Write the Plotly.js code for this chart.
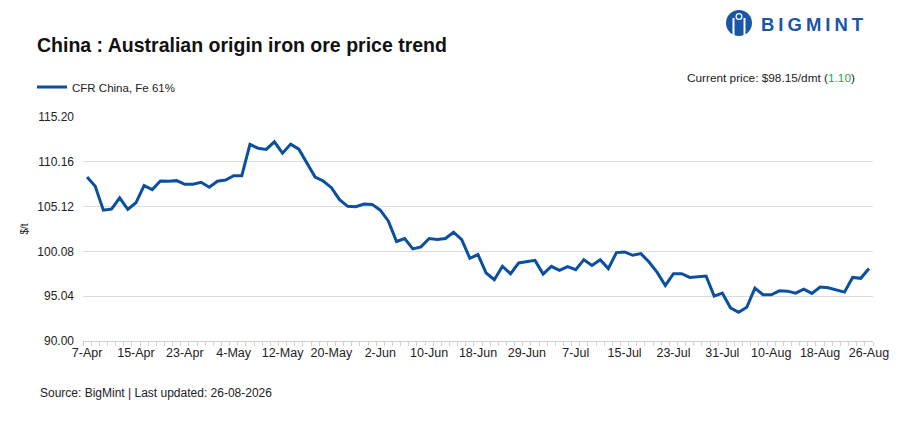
<!DOCTYPE html>
<html>
<head>
<meta charset="utf-8">
<script src="https://cdn.plot.ly/plotly-3.0.1.min.js"></script>
<style>
  html, body { margin: 0; padding: 0; background: #ffffff; }
  #chart { width: 907px; height: 429px; }
</style>
</head>
<body>
<div id="chart"></div>
<script>
// ---- Data ----
const dates = [
  '7-Apr','8-Apr','9-Apr','10-Apr','11-Apr','14-Apr','15-Apr','16-Apr','17-Apr','18-Apr',
  '21-Apr','22-Apr','23-Apr','24-Apr','25-Apr','28-Apr','29-Apr','30-Apr','4-May','5-May',
  '6-May','7-May','8-May','9-May','12-May','13-May','14-May','15-May','16-May','19-May',
  '20-May','21-May','22-May','26-May','27-May','29-May','2-Jun','3-Jun','4-Jun','5-Jun',
  '6-Jun','9-Jun','10-Jun','11-Jun','12-Jun','13-Jun','16-Jun','17-Jun','18-Jun','19-Jun',
  '20-Jun','23-Jun','24-Jun','26-Jun','29-Jun','30-Jun','1-Jul','2-Jul','3-Jul','4-Jul',
  '7-Jul','8-Jul','9-Jul','10-Jul','11-Jul','14-Jul','15-Jul','16-Jul','17-Jul','18-Jul',
  '21-Jul','22-Jul','23-Jul','24-Jul','25-Jul','28-Jul','29-Jul','30-Jul','31-Jul','1-Aug',
  '4-Aug','5-Aug','6-Aug','8-Aug','10-Aug','11-Aug','12-Aug','13-Aug','14-Aug','15-Aug',
  '18-Aug','19-Aug','20-Aug','21-Aug','22-Aug','25-Aug','26-Aug'
];

const cfrChinaFe61 = [
  108.45, 107.40, 104.72, 104.84, 106.10, 104.80, 105.55, 107.48, 107.03, 108.00,
  107.97, 108.04, 107.63, 107.63, 107.85, 107.29, 107.97, 108.11, 108.60, 108.60,
  112.11, 111.69, 111.55, 112.41, 111.13, 112.15, 111.58, 110.00, 108.45, 108.00,
  107.25, 105.90, 105.15, 105.10, 105.40, 105.37, 104.72, 103.48, 101.19, 101.53,
  100.36, 100.59, 101.53, 101.41, 101.53, 102.24, 101.41, 99.30, 99.72, 97.65,
  96.89, 98.40, 97.57, 98.78, 98.96, 99.07, 97.53, 98.40, 97.94, 98.36,
  98.02, 99.15, 98.51, 99.15, 98.15, 99.95, 100.02, 99.64, 99.83, 98.89,
  97.72, 96.25, 97.57, 97.57, 97.15, 97.23, 97.31, 95.05, 95.39, 93.73,
  93.24, 93.80, 95.95, 95.20, 95.20, 95.65, 95.61, 95.39, 95.84, 95.35,
  96.07, 95.99, 95.76, 95.50, 97.15, 97.05, 98.15
];

const xTickLabels = ['7-Apr','15-Apr','23-Apr','4-May','12-May','20-May','2-Jun','10-Jun',
  '18-Jun','29-Jun','7-Jul','15-Jul','23-Jul','31-Jul','10-Aug','18-Aug','26-Aug'];

const yTickVals = [90.00, 95.04, 100.08, 105.12, 110.16, 115.20];
const yTickText = ['90.00', '95.04', '100.08', '105.12', '110.16', '115.20'];

const seriesName = 'CFR China, Fe 61%';
const chartTitle = 'China : Australian origin iron ore price trend';
const sourceText = 'Source: BigMint | Last updated: 26-08-2026';
const unitText = '/dmt';

// ---- Layout helpers ----
const W = 907, H = 429;
const M = { l: 83, r: 34, t: 117, b: 88 };
const PW = W - M.l - M.r, PH = H - M.t - M.b;
const px = v => (v - M.l) / PW;
const py = v => (H - M.b - v) / PH;

const FONT = '"Liberation Sans", Arial, sans-serif';
const BLUE = '#0b4fa1';
const LOGO = '#1a55a6';

const last = cfrChinaFe61[cfrChinaFe61.length - 1];
const prev = cfrChinaFe61[cfrChinaFe61.length - 2];
const change = last - prev;
const changeColor = change >= 0 ? '#22a84a' : '#d62728';

const tickText = dates.map(d => xTickLabels.includes(d) ? d : '');

const trace = {
  type: 'scatter',
  mode: 'lines',
  x: dates,
  y: cfrChinaFe61,
  name: seriesName,
  line: { color: BLUE, width: 3 },
  hoverinfo: 'x+y'
};

const layout = {
  width: W, height: H,
  margin: M,
  paper_bgcolor: '#ffffff',
  plot_bgcolor: '#ffffff',
  font: { family: FONT, color: '#222222', size: 11 },
  title: {
    text: '<b>' + chartTitle + '</b>',
    font: { family: FONT, size: 19.5, color: '#111111' },
    xref: 'container', x: 37 / W, xanchor: 'left',
    yref: 'container', y: 1 - 45 / H, yanchor: 'middle'
  },
  showlegend: true,
  legend: {
    orientation: 'h',
    xref: 'container', x: 32 / W, xanchor: 'left',
    yref: 'container', y: 1 - 87 / H, yanchor: 'middle',
    font: { family: FONT, size: 11.5, color: '#222222' },
    bgcolor: 'rgba(0,0,0,0)', borderwidth: 0,
    itemwidth: 30
  },
  xaxis: {
    type: 'category',
    range: [-0.5, dates.length - 0.5],
    tickmode: 'array',
    tickvals: dates,
    ticktext: tickText,
    tickson: 'boundaries',
    ticks: 'outside', ticklen: 4, tickcolor: '#d0d0d0', tickwidth: 1,
    showgrid: false,
    showline: true, linecolor: '#d0d0d0', linewidth: 1,
    tickfont: { family: FONT, size: 12.5, color: '#222222' },
    tickangle: 0,
    fixedrange: true
  },
  yaxis: {
    range: [yTickVals[0], yTickVals[yTickVals.length - 1]],
    tickmode: 'array',
    tickvals: yTickVals,
    ticktext: yTickText,
    showgrid: true, gridcolor: '#dcdcdc', gridwidth: 1,
    zeroline: false,
    showline: false,
    ticks: '',
    ticklabelstandoff: 8,
    tickfont: { family: FONT, size: 12, color: '#222222' },
    title: { text: '$/t', font: { family: FONT, size: 10, color: '#222222' }, standoff: 6 },
    fixedrange: true
  },
  shapes: [
    // logo icon
    { type: 'circle', xref: 'paper', yref: 'paper',
      x0: px(726), x1: px(752), y0: py(36), y1: py(10),
      fillcolor: LOGO, line: { width: 0 } },
    { type: 'rect', xref: 'paper', yref: 'paper',
      x0: px(732.5), x1: px(734.5), y0: py(37), y1: py(18),
      fillcolor: '#ffffff', line: { width: 0 } },
    { type: 'rect', xref: 'paper', yref: 'paper',
      x0: px(743.5), x1: px(745.5), y0: py(37), y1: py(18),
      fillcolor: '#ffffff', line: { width: 0 } },
    { type: 'circle', xref: 'paper', yref: 'paper',
      x0: px(735.5), x1: px(742.5), y0: py(20), y1: py(13),
      fillcolor: '#ffffff', line: { width: 0 } },
    { type: 'circle', xref: 'paper', yref: 'paper',
      x0: px(736.8), x1: px(741.2), y0: py(18.7), y1: py(14.3),
      fillcolor: LOGO, line: { width: 0 } }
  ],
  annotations: [
    { text: '<b><span style="letter-spacing:4px">BIGMINT</span></b>',
      xref: 'paper', yref: 'paper', x: px(759), y: py(24),
      xanchor: 'left', yanchor: 'middle', showarrow: false,
      font: { family: FONT, size: 18.5, color: LOGO } },
    { text: 'Current price: $' + last.toFixed(2) + unitText +
            ' (<span style="color:' + changeColor + '">' + Math.abs(change).toFixed(2) + '</span>)',
      xref: 'paper', yref: 'paper', x: px(857), y: py(78),
      xanchor: 'right', yanchor: 'middle', showarrow: false,
      font: { family: FONT, size: 11.8, color: '#222222' } },
    { text: sourceText,
      xref: 'paper', yref: 'paper', x: px(38), y: py(393),
      xanchor: 'left', yanchor: 'middle', showarrow: false,
      font: { family: FONT, size: 12, color: '#222222' } }
  ]
};

Plotly.newPlot('chart', [trace], layout, { displayModeBar: false, staticPlot: true });
</script>
</body>
</html>
